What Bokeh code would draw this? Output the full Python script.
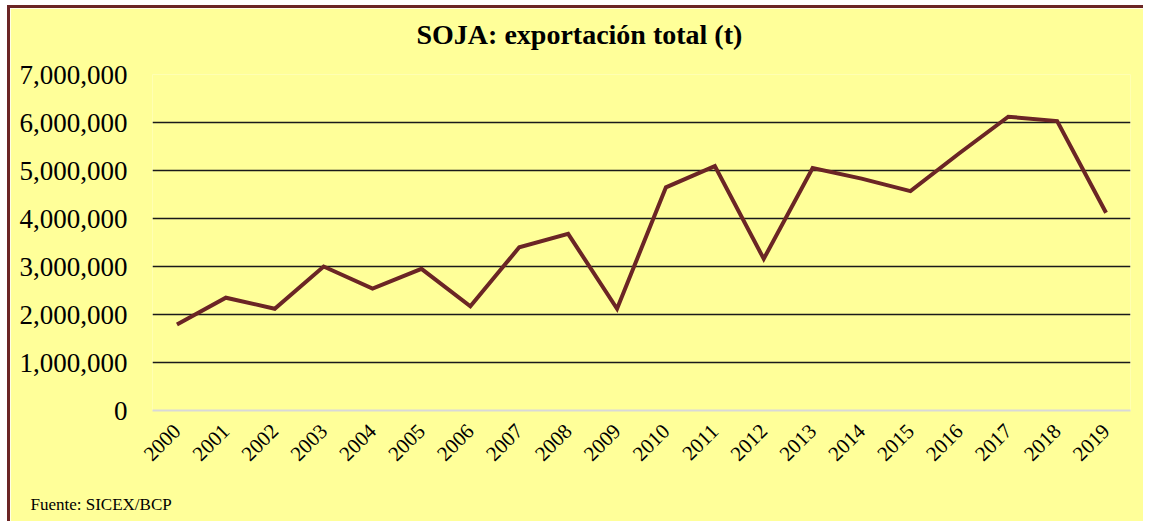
import math
from bokeh.plotting import figure
from bokeh.models import FixedTicker, NumeralTickFormatter, Range1d, Title
from bokeh.embed import file_html
from bokeh.resources import INLINE

years = [str(y) for y in range(2000, 2020)]
export_t = [1790000, 2350000, 2120000, 3000000, 2540000, 2950000, 2170000,
            3400000, 3680000, 2120000, 4650000, 5090000, 3160000, 5050000,
            4830000, 4570000, 5360000, 6120000, 6030000, 4120000]
y_ticks = [0, 1000000, 2000000, 3000000, 4000000, 5000000, 6000000, 7000000]
grid_ticks = y_ticks[1:]
title_text = "SOJA: exportación total (t)"
source_text = "Fuente: SICEX/BCP"

BG = "#FFFF99"
BROWN = "#6B2525"
FONT = "Liberation Serif"

p = figure(x_range=years, y_range=Range1d(0, 7000000), width=1136, height=516,
           output_backend="svg", toolbar_location=None,
           min_border_left=142, min_border_right=16, min_border_top=66,
           min_border_bottom=114)
p.styles = {"border-left": f"3px solid {BROWN}", "border-top": f"3px solid {BROWN}",
            "margin-left": "7px", "margin-top": "5px"}
p.background_fill_color = BG
p.border_fill_color = BG
p.outline_line_color = None

p.title.text = title_text
p.title.text_font = FONT
p.title.text_font_size = "28px"
p.title.text_font_style = "bold"
p.title.text_color = "black"
p.title.align = "left"
p.title.offset = 264
p.title.standoff = 0

p.line(years, export_t, line_color=BROWN, line_width=4, line_join="miter")

p.xgrid.grid_line_color = None
p.ygrid.ticker = FixedTicker(ticks=grid_ticks)
p.ygrid.grid_line_color = "#1a1a1a"
p.ygrid.grid_line_width = 1.4

p.yaxis.ticker = FixedTicker(ticks=y_ticks)
p.yaxis.formatter = NumeralTickFormatter(format="0,0")
p.yaxis.axis_line_color = None
p.yaxis.major_tick_line_color = None
p.yaxis.minor_tick_line_color = None
p.yaxis.major_label_text_font = FONT
p.yaxis.major_label_text_font_size = "27px"
p.yaxis.major_label_text_color = "black"
p.yaxis.major_label_standoff = 19

p.xaxis.axis_line_color = "#D9D9D9"
p.xaxis.axis_line_width = 2
p.xaxis.major_tick_line_color = None
p.xaxis.minor_tick_line_color = None
p.xaxis.major_label_orientation = math.pi / 4
p.xaxis.major_label_text_font = FONT
p.xaxis.major_label_text_font_size = "21px"
p.xaxis.major_label_text_color = "black"
p.xaxis.major_label_standoff = 11

top_gap = Title(text=" ", text_font_size="1px", standoff=22)
p.add_layout(top_gap, "above")

bottom_gap = Title(text=" ", text_font_size="1px", standoff=19)
p.add_layout(bottom_gap, "below")

src = Title(text=source_text, align="left", offset=-122,
            text_font=FONT, text_font_size="17px", text_font_style="normal",
            text_color="black", standoff=0)
p.add_layout(src, "below")

open("out.html", "w").write(file_html(p, INLINE))
